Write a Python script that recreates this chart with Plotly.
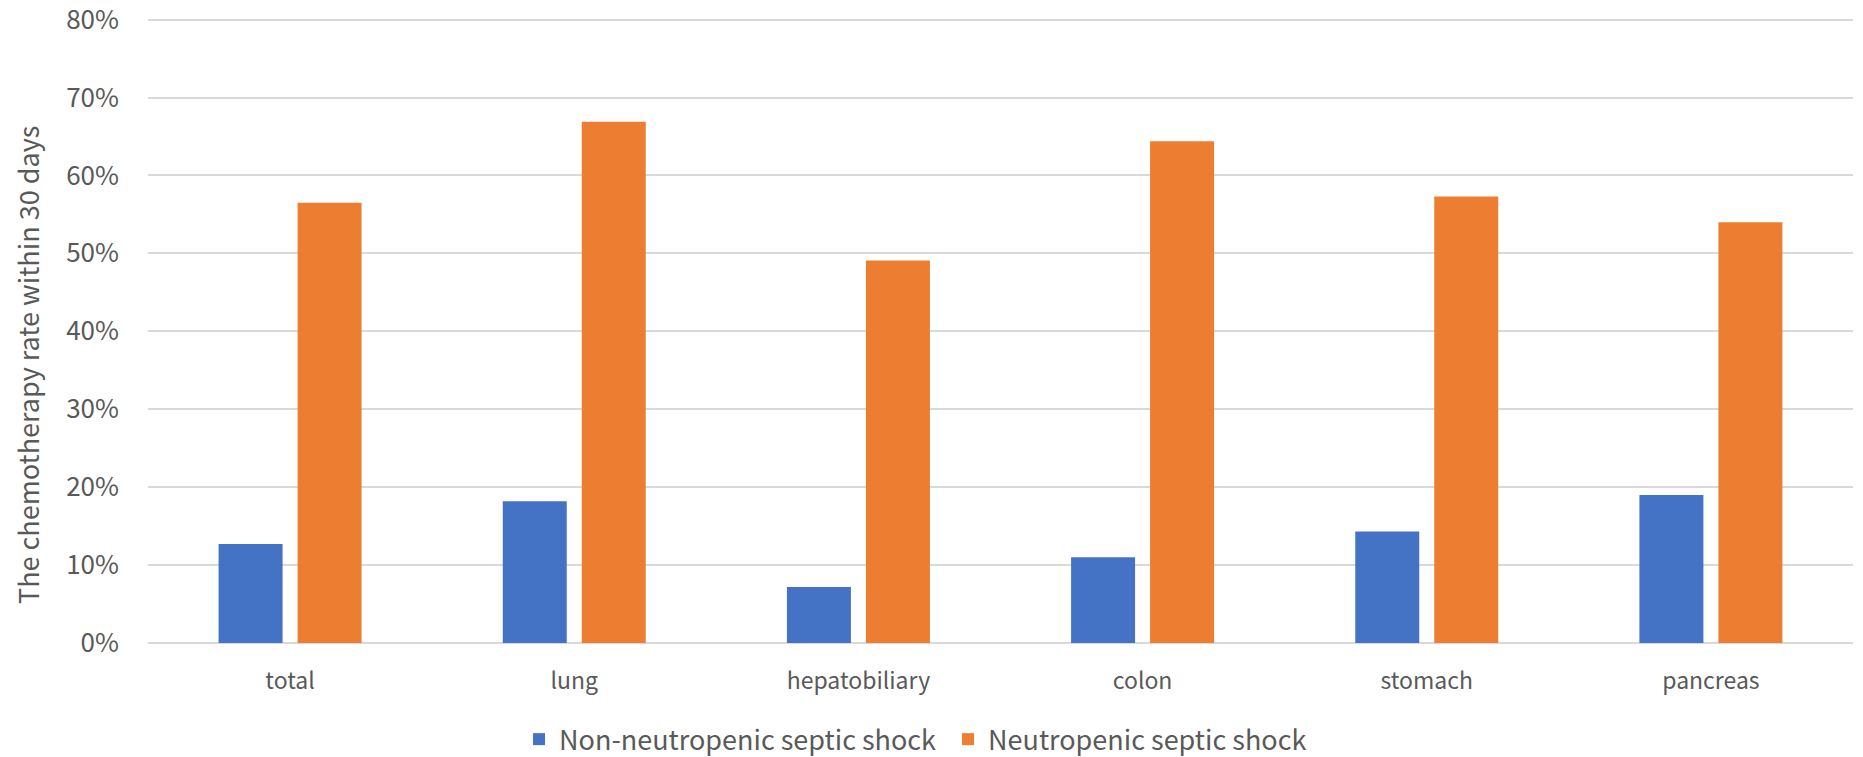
import plotly.graph_objects as go

categories = ["total", "lung", "hepatobiliary", "colon", "stomach", "pancreas"]
non_neutropenic = [0.127, 0.182, 0.072, 0.110, 0.143, 0.190]
neutropenic = [0.565, 0.669, 0.491, 0.644, 0.573, 0.540]
series_names = ["Non-neutropenic septic shock", "Neutropenic septic shock"]
y_ticks = [0, 0.1, 0.2, 0.3, 0.4, 0.5, 0.6, 0.7, 0.8]
y_title = "The chemotherapy rate within 30 days"

FONT = "Noto Sans CJK KR"
GRAY = "#595959"

W, H = 1863, 757
M_L, M_R, M_T, M_B = 148, 10, 4, 114
plot_w = W - M_L - M_R
plot_h = H - M_T - M_B

fig = go.Figure()
fig.add_trace(go.Bar(x=categories, y=non_neutropenic, name=series_names[0],
                     marker=dict(color="#4472C4", line=dict(width=0))))
fig.add_trace(go.Bar(x=categories, y=neutropenic, name=series_names[1],
                     marker=dict(color="#ED7D31", line=dict(width=0))))

fig.add_annotation(text=y_title, textangle=-90, showarrow=False,
                   xref="paper", yref="paper",
                   x=(28 - M_L) / plot_w, y=(H - M_B - 365) / plot_h,
                   xanchor="center", yanchor="middle",
                   font=dict(size=27, color=GRAY, family=FONT))

fig.update_layout(
    width=W, height=H,
    margin=dict(l=M_L, r=M_R, t=M_T, b=M_B, autoexpand=False),
    paper_bgcolor="white", plot_bgcolor="white",
    barmode="group", bargap=0.444, bargroupgap=0.19,
    font=dict(family=FONT, color=GRAY, size=23),
    showlegend=True,
    legend=dict(orientation="h", xref="container", yref="container",
                x=0.2786, xanchor="left", y=0.023, yanchor="middle",
                font=dict(size=27, color=GRAY), itemwidth=30,
                entrywidth=384, entrywidthmode="pixels",
                traceorder="normal"),
    xaxis=dict(showline=False, showgrid=False, ticks="",
               tickfont=dict(size=23, color=GRAY), ticklabelstandoff=22),
    yaxis=dict(range=[0, 0.82], tickvals=y_ticks, tickformat=".0%",
               showgrid=True, gridcolor="#D9D9D9", gridwidth=1.5,
               zeroline=True, zerolinecolor="#D9D9D9", zerolinewidth=1.5,
               showline=False, ticks="", ticklabeloverflow="allow",
               tickfont=dict(size=26, color=GRAY), ticklabelstandoff=28),
)

fig.write_html("out.html", config={"displayModeBar": False},
               post_script="document.body.style.margin='0';document.body.style.overflow='hidden';")
